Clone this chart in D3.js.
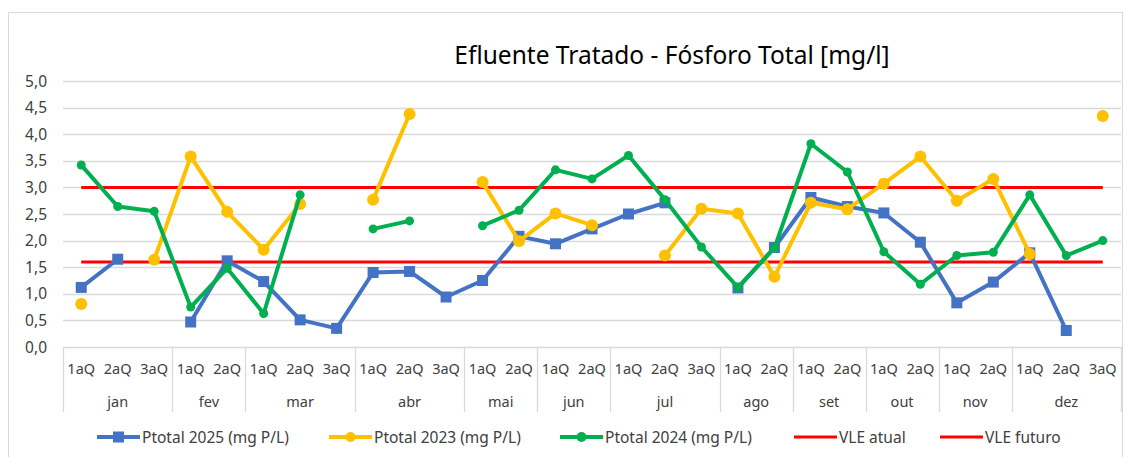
<!DOCTYPE html>
<html lang="en">
<head>
    <meta charset="UTF-8">
    <title>Efluente Tratado - Fósforo Total</title>
    <script src="https://cdnjs.cloudflare.com/ajax/libs/d3/7.8.5/d3.min.js"></script>
</head>
<style>
    body{
        margin:0;
        background:#fff;
    }
    #chart text{
        font-family:"Noto Sans", "Open Sans", sans-serif;
    }
</style>
<body>
<div id="chart"></div>
</body>
</html>
<script>
    // months and the quinzenas inside each one
    var months = ["jan","fev","mar","abr","mai","jun","jul","ago","set","out","nov","dez"];
    var quinzenas = [
        ["1aQ","2aQ","3aQ"], ["1aQ","2aQ"], ["1aQ","2aQ","3aQ"], ["1aQ","2aQ","3aQ"],
        ["1aQ","2aQ"], ["1aQ","2aQ"], ["1aQ","2aQ","3aQ"], ["1aQ","2aQ"],
        ["1aQ","2aQ"], ["1aQ","2aQ"], ["1aQ","2aQ"], ["1aQ","2aQ","3aQ"]
    ];
    var yTicks = [0,0.5,1,1.5,2,2.5,3,3.5,4,4.5,5];

    // values per category, null = no sample
    var ptotal2025 = [1.12,1.65,null, 0.47,1.62, 1.23,0.51,0.35, 1.40,1.42,0.94, 1.25,2.08, 1.94,2.22,
        2.50,2.71,null, 1.11,1.87, 2.81,2.64, 2.52,1.97, 0.83,1.22, 1.77,0.31,null];
    var ptotal2023 = [0.81,null,1.64, 3.58,2.54, 1.83,2.69,null, 2.77,4.38,null, 3.10,1.99, 2.51,2.29,
        null,1.72,2.60, 2.51,1.32, 2.71,2.59, 3.07,3.58, 2.75,3.16, 1.75,null,4.34];
    var ptotal2024 = [3.42,2.64,2.55, 0.75,1.48, 0.63,2.86,null, 2.22,2.37,null, 2.28,2.57, 3.33,3.16,
        3.60,2.77,1.88, 1.12,1.86, 3.82,3.29, 1.79,1.18, 1.72,1.78, 2.86,1.72,2.00];
    var vleAtual = 3.0;
    var vleFuturo = 1.6;

    var W = 1127, H = 457;
    var margin = {left: 63, right: 6, top: 81, bottom: 110};

    var cats = [];
    var monthSpans = [];
    months.forEach(function(m, i){
        var start = cats.length;
        quinzenas[i].forEach(function(q){ cats.push(m + "-" + q); });
        monthSpans.push({name: m, start: start, end: cats.length});
    });

    var svg = d3.select("#chart").append("svg")
        .attr("width", W)
        .attr("height", H);

    // outer chart frame
    svg.append("rect")
        .attr("x", 8.5).attr("y", 12.5)
        .attr("width", 1114).attr("height", 470)
        .style("fill", "#fff")
        .style("stroke", "#d9d9d9");

    var x = d3.scaleBand()
        .domain(cats)
        .range([margin.left, W - margin.right]);
    var y = d3.scaleLinear()
        .domain([0, 5])
        .range([H - margin.bottom, margin.top]);

    // gridlines
    svg.append("g").selectAll("line")
        .data(yTicks)
        .enter().append("line")
        .attr("x1", margin.left).attr("x2", W - margin.right)
        .attr("y1", function(d){ return Math.round(y(d)) + 0.5; })
        .attr("y2", function(d){ return Math.round(y(d)) + 0.5; })
        .style("stroke", "#d9d9d9")
        .style("stroke-width", 1.3);

    svg.append("g").selectAll("text")
        .data(yTicks)
        .enter().append("text")
        .attr("x", 47)
        .attr("y", function(d){ return y(d) + 5.5; })
        .attr("text-anchor", "end")
        .style("font-size", "15.5px")
        .style("fill", "#404040")
        .text(function(d){ return d3.format(".1f")(d).replace(".", ","); });

    // category axis: quinzena labels, month labels and separators
    var axisY = y(0);
    svg.append("g").selectAll("text")
        .data(cats)
        .enter().append("text")
        .attr("x", function(d){ return x(d) + x.bandwidth()/2; })
        .attr("y", axisY + 27)
        .attr("text-anchor", "middle")
        .style("font-size", "14.5px")
        .style("fill", "#404040")
        .text(function(d){ return d.split("-")[1]; });

    var seps = monthSpans.map(function(s){ return s.start; }).concat([cats.length]);
    svg.append("g").selectAll("line")
        .data(seps)
        .enter().append("line")
        .attr("x1", function(i){ return Math.round(margin.left + i * x.step()) + 0.5; })
        .attr("x2", function(i){ return Math.round(margin.left + i * x.step()) + 0.5; })
        .attr("y1", axisY).attr("y2", axisY + 65)
        .style("stroke", "#d9d9d9")
        .style("stroke-width", 1.3);

    svg.append("g").selectAll("text")
        .data(monthSpans)
        .enter().append("text")
        .attr("x", function(s){ return margin.left + (s.start + s.end) / 2 * x.step(); })
        .attr("y", axisY + 60)
        .attr("text-anchor", "middle")
        .style("font-size", "14.5px")
        .style("fill", "#404040")
        .text(function(s){ return s.name; });

    // limit lines
    [vleAtual, vleFuturo].forEach(function(v){
        svg.append("line")
            .attr("x1", x(cats[0]) + x.bandwidth()/2)
            .attr("x2", x(cats[cats.length-1]) + x.bandwidth()/2)
            .attr("y1", y(v)).attr("y2", y(v))
            .style("stroke", "#ff0000")
            .style("stroke-width", 3);
    });

    var cx = function(d, i){ return x(cats[i]) + x.bandwidth()/2; };
    var line = d3.line()
        .defined(function(d){ return d !== null; })
        .x(cx)
        .y(function(d){ return y(d); });

    var series = [
        {name: "Ptotal 2025 (mg P/L)", values: ptotal2025, color: "#4472c4", marker: "square", size: 11},
        {name: "Ptotal 2023 (mg P/L)", values: ptotal2023, color: "#ffc000", marker: "circle", size: 6},
        {name: "Ptotal 2024 (mg P/L)", values: ptotal2024, color: "#00b050", marker: "circle", size: 4.5}
    ];

    series.forEach(function(s){
        var g = svg.append("g");
        g.append("path")
            .datum(s.values)
            .attr("d", line)
            .style("fill", "none")
            .style("stroke", s.color)
            .style("stroke-width", 4)
            .style("stroke-linejoin", "round");
        var pts = s.values.map(function(v, i){ return {v: v, i: i}; })
            .filter(function(p){ return p.v !== null; });
        if(s.marker === "square"){
            g.selectAll("rect").data(pts).enter().append("rect")
                .attr("x", function(p){ return cx(p.v, p.i) - s.size/2; })
                .attr("y", function(p){ return y(p.v) - s.size/2; })
                .attr("width", s.size).attr("height", s.size)
                .style("fill", s.color);
        } else {
            g.selectAll("circle").data(pts).enter().append("circle")
                .attr("cx", function(p){ return cx(p.v, p.i); })
                .attr("cy", function(p){ return y(p.v); })
                .attr("r", s.size)
                .style("fill", s.color);
        }
    });

    // title
    svg.append("text")
        .attr("x", 672)
        .attr("y", 64)
        .attr("text-anchor", "middle")
        .style("font-size", "24.5px")
        .style("fill", "#000")
        .text("Efluente Tratado - Fósforo Total [mg/l]");

    // legend
    var legend = [
        {name: series[0].name, color: series[0].color, marker: "square", x: 97},
        {name: series[1].name, color: series[1].color, marker: "circle", x: 329},
        {name: series[2].name, color: series[2].color, marker: "circle", x: 560},
        {name: "VLE atual", color: "#ff0000", marker: null, x: 794},
        {name: "VLE futuro", color: "#ff0000", marker: null, x: 940}
    ];
    var ly = 437;
    var lg = svg.append("g").selectAll("g")
        .data(legend)
        .enter().append("g");
    lg.append("line")
        .attr("x1", function(d){ return d.x; })
        .attr("x2", function(d){ return d.x + 43; })
        .attr("y1", ly).attr("y2", ly)
        .style("stroke", function(d){ return d.color; })
        .style("stroke-width", function(d){ return d.marker ? 4 : 3; });
    lg.filter(function(d){ return d.marker === "square"; })
        .append("rect")
        .attr("x", function(d){ return d.x + 16; })
        .attr("y", ly - 5.5)
        .attr("width", 11).attr("height", 11)
        .style("fill", function(d){ return d.color; });
    lg.filter(function(d){ return d.marker === "circle"; })
        .append("circle")
        .attr("cx", function(d){ return d.x + 21.5; })
        .attr("cy", ly)
        .attr("r", 5)
        .style("fill", function(d){ return d.color; });
    lg.append("text")
        .attr("x", function(d){ return d.x + 45; })
        .attr("y", ly + 5.5)
        .style("font-size", "15.5px")
        .style("fill", "#404040")
        .text(function(d){ return d.name; });
</script>
